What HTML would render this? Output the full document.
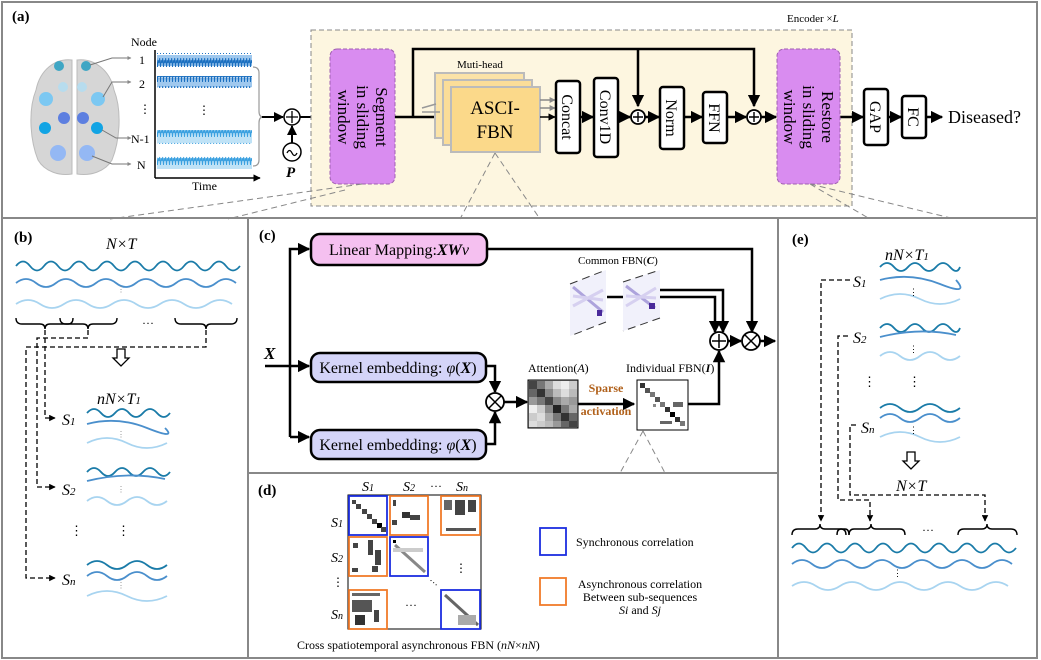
<!DOCTYPE html>
<html><head><meta charset="utf-8"><style>
html,body{margin:0;padding:0;background:#fff}
svg{display:block;font-family:"Liberation Serif",serif}
</style></head><body>
<svg width="1041" height="660" viewBox="0 0 1041 660" xmlns="http://www.w3.org/2000/svg">
<defs>
<marker id="ah" viewBox="0 0 10 10" refX="9" refY="5" markerWidth="5" markerHeight="5" orient="auto"><path d="M0,0 L10,5 L0,10 z" fill="#000"/></marker>
<marker id="ahg" viewBox="0 0 10 10" refX="9" refY="5" markerWidth="4" markerHeight="4" orient="auto"><path d="M0,0 L10,5 L0,10 z" fill="#888"/></marker>
<pattern id="zz" width="3" height="14" patternUnits="userSpaceOnUse"><path d="M0 7 L0.7 2 L1.5 12 L2.2 4 L3 7" stroke="#1a6fc0" stroke-width="0.9" fill="none"/></pattern>
<pattern id="zz2" width="3" height="14" patternUnits="userSpaceOnUse"><path d="M0 7 L0.7 3 L1.5 11 L2.2 4 L3 7" stroke="#3aa0e0" stroke-width="0.9" fill="none"/></pattern>
</defs>

<rect x="2" y="2" width="1035" height="216" fill="#fff" stroke="#888" stroke-width="2"/>
<rect x="2" y="218" width="246" height="440" fill="#fff" stroke="#888" stroke-width="2"/>
<rect x="248" y="218" width="530" height="255" fill="#fff" stroke="#888" stroke-width="2"/>
<rect x="248" y="473" width="530" height="185" fill="#fff" stroke="#888" stroke-width="2"/>
<rect x="778" y="218" width="259" height="440" fill="#fff" stroke="#888" stroke-width="2"/>

<!-- ===== panel a ===== -->
<text x="12" y="21" font-size="15" font-weight="bold">(a)</text>
<path d="M72 60 C55 58 40 70 36 90 C28 110 30 140 38 160 C45 172 60 176 72 174 Z" fill="#d6d6d6" stroke="#bbb"/>
<path d="M77 60 C94 58 110 70 114 90 C122 110 120 140 112 160 C105 172 90 176 77 174 Z" fill="#d6d6d6" stroke="#bbb"/>
<circle cx="59" cy="66" r="5" fill="#3fa6c4"/><circle cx="86" cy="66" r="5" fill="#3fa6c4"/>
<circle cx="63" cy="87" r="5" fill="#b7dcee"/><circle cx="82" cy="87" r="5" fill="#b7dcee"/>
<circle cx="46" cy="99" r="7" fill="#7cc8f2"/><circle cx="98" cy="99" r="7" fill="#7cc8f2"/>
<circle cx="64" cy="118" r="6" fill="#5d7fe0"/><circle cx="83" cy="118" r="6" fill="#5d7fe0"/>
<circle cx="45" cy="128" r="6" fill="#12a4e4"/><circle cx="97" cy="128" r="6" fill="#12a4e4"/>
<circle cx="58" cy="153" r="8" fill="#94b8f4"/><circle cx="87" cy="153" r="8" fill="#94b8f4"/>
<g stroke="#777" fill="none" marker-end="url(#ahg)">
<path d="M90 65 L112 58 L131 58"/><path d="M103 97 L112 82 L131 82"/>
<path d="M102 130 L116 138 L131 138"/><path d="M92 156 L112 164 L131 164"/>
</g>
<g font-size="12"><text x="131" y="46">Node</text><text x="139" y="64">1</text><text x="139" y="88">2</text>
<text x="139" y="113">⋮</text><text x="131" y="143">N-1</text><text x="137" y="169">N</text></g>
<line x1="155" y1="50" x2="155" y2="178" stroke="#000" stroke-width="1.5"/>
<line x1="155" y1="178" x2="260" y2="178" stroke="#000" stroke-width="1.5" marker-end="url(#ah)"/>
<text x="192" y="190" font-size="12">Time</text>
<rect x="157" y="55" width="95" height="11" fill="#9fc8ee"/>
<rect x="157" y="53" width="95" height="14" fill="url(#zz)"/>
<rect x="157" y="78" width="95" height="9" fill="#9fc8ee"/>
<rect x="157" y="76" width="95" height="12" fill="url(#zz)"/>
<rect x="157" y="132" width="95" height="11" fill="#bfe2f6"/>
<rect x="157" y="130" width="95" height="14" fill="url(#zz2)"/>
<rect x="157" y="158" width="95" height="11" fill="#bfe2f6"/>
<rect x="157" y="156" width="95" height="14" fill="url(#zz2)"/>
<text x="198" y="114" font-size="12">⋮</text>
<path d="M253 67 Q259 67 259 73 L259 111 Q259 117 263 117 Q259 117 259 123 L259 160 Q259 166 253 166" stroke="#999" fill="none" stroke-width="1.2"/>
<line x1="262" y1="117" x2="283" y2="117" stroke="#000" stroke-width="2" marker-end="url(#ah)"/>
<circle cx="292" cy="117" r="8" fill="#fff" stroke="#000" stroke-width="1.5"/>
<path d="M292 111 V123 M286 117 H298" stroke="#000" stroke-width="1.3"/>
<circle cx="292" cy="152" r="9" fill="#fff" stroke="#000" stroke-width="1.5"/>
<path d="M287 153 q2.5 -5 5 0 t5 0" stroke="#000" fill="none" stroke-width="1.3"/>
<line x1="292" y1="143" x2="292" y2="126" stroke="#000" stroke-width="2" marker-end="url(#ah)"/>
<text x="286" y="177" font-size="15" font-weight="bold" font-style="italic">P</text>
<line x1="300" y1="117" x2="328" y2="117" stroke="#000" stroke-width="2" marker-end="url(#ah)"/>

<rect x="311" y="30" width="541" height="176" fill="#fdf6e0" stroke="#888" stroke-dasharray="5,3"/>
<text x="787" y="22" font-size="11">Encoder  ×<tspan font-style="italic">L</tspan></text>
<rect x="330" y="49" width="65" height="135" rx="7" fill="#d98cf0" stroke="#a060b0" stroke-dasharray="4,2"/>
<text transform="translate(362,117) rotate(90)" font-size="17" text-anchor="middle"><tspan x="0" y="-14">Segment</tspan><tspan x="0" y="5">in sliding</tspan><tspan x="0" y="24">window</tspan></text>
<path d="M395 117 H448" stroke="#000" stroke-width="2.5" fill="none" marker-end="url(#ah)"/>
<path d="M413 117 V49 H754 V106" stroke="#000" stroke-width="2.5" fill="none" marker-end="url(#ah)"/>
<path d="M638 49 V106" stroke="#000" stroke-width="2.5" fill="none" marker-end="url(#ah)"/>
<text x="457" y="68" font-size="11">Muti-head</text>
<rect x="435" y="73" width="89" height="65" fill="#fbe3a8" stroke="#bbb" stroke-width="2"/>
<rect x="443" y="80" width="89" height="65" fill="#fbdd98" stroke="#bbb" stroke-width="2"/>
<rect x="451" y="87" width="89" height="65" fill="#fbd98a" stroke="#bbb" stroke-width="2"/>
<path d="M422 108 L436 104 M422 112 L440 112" stroke="#999" stroke-width="1.5"/>
<text x="495" y="114" font-size="19" text-anchor="middle">ASCI-</text>
<text x="495" y="138" font-size="19" text-anchor="middle">FBN</text>
<g stroke="#888" stroke-width="1.5" marker-end="url(#ahg)"><line x1="540" y1="100" x2="555" y2="100"/><line x1="540" y1="108" x2="555" y2="108"/></g>
<line x1="540" y1="117" x2="555" y2="117" stroke="#000" stroke-width="1.5" marker-end="url(#ah)"/>
<g fill="#fff" stroke="#000" stroke-width="2.5">
<rect x="556" y="81" width="24" height="72" rx="3"/>
<rect x="594" y="78" width="24" height="79" rx="3"/>
<rect x="660" y="87" width="24" height="62" rx="3"/>
<rect x="703" y="92" width="24" height="51" rx="3"/>
<rect x="864" y="89" width="24" height="56" rx="3"/>
<rect x="902" y="96" width="24" height="42" rx="3"/>
</g>
<g font-size="16" text-anchor="middle">
<text transform="translate(568,117) rotate(90)" y="6">Concat</text>
<text transform="translate(606,117) rotate(90)" y="6">Conv1D</text>
<text transform="translate(672,118) rotate(90)" y="6">Norm</text>
<text transform="translate(715,118) rotate(90)" y="6">FFN</text>
<text transform="translate(876,117) rotate(90)" y="6">GAP</text>
<text transform="translate(914,117) rotate(90)" y="6">FC</text>
</g>
<g stroke="#000" stroke-width="2.5" marker-end="url(#ah)">
<line x1="580" y1="117" x2="593" y2="117"/><line x1="618" y1="117" x2="630" y2="117"/>
<line x1="645" y1="117" x2="659" y2="117"/><line x1="684" y1="117" x2="702" y2="117"/>
<line x1="727" y1="117" x2="746" y2="117"/><line x1="761" y1="117" x2="776" y2="117"/>
<line x1="840" y1="117" x2="863" y2="117"/><line x1="888" y1="117" x2="901" y2="117"/>
<line x1="926" y1="117" x2="942" y2="117"/>
</g>
<g fill="#fff" stroke="#000" stroke-width="1.8"><circle cx="638" cy="117" r="7"/><circle cx="754" cy="117" r="7"/></g>
<path d="M638 112 V122 M633 117 H643 M754 112 V122 M749 117 H759" stroke="#000" stroke-width="1.4"/>
<rect x="777" y="49" width="63" height="135" rx="7" fill="#d98cf0" stroke="#a060b0" stroke-dasharray="4,2"/>
<text transform="translate(808,117) rotate(90)" font-size="17" text-anchor="middle"><tspan x="0" y="-14">Restore</tspan><tspan x="0" y="5">in sliding</tspan><tspan x="0" y="24">window</tspan></text>
<text x="948" y="123" font-size="18">Diseased?</text>
<g stroke="#888" stroke-dasharray="6,4" fill="none">
<path d="M362 184 L110 219 M345 190 L228 219"/>
<path d="M495 153 L460 219 M495 153 L540 219"/>
<path d="M810 184 L870 219 M810 184 L955 219"/>
<path d="M643 431 L620 473 M643 431 L665 473"/>
</g>

<!-- ===== panel b ===== -->
<text x="14" y="242" font-size="15" font-weight="bold">(b)</text>
<text x="106" y="249" font-size="16" font-style="italic">N×T</text>
<g fill="none" stroke-width="1.8">
<path d="M16 266 q7 -9 14 0 t14 0 t14 0 t14 0 t14 0 t14 0 t14 0 t14 0 t14 0 t14 0 t14 0 t14 0 t14 0 t14 0 t14 0 t14 0" stroke="#1a7ba8"/>
<path d="M16 283 q10 -8 20 0 t20 0 t20 0 t20 0 t20 0 t20 0 t20 0 t20 0 t20 0 t20 0 t20 0" stroke="#4a8fcc"/>
<path d="M16 304 q12 -8 24 0 t24 0 t24 0 t24 0 t24 0 t24 0 t24 0 t24 0 t24 0" stroke="#a8d4f0"/>
</g>
<text x="117" y="292" font-size="8" fill="#888">⋮</text>
<g fill="none" stroke="#000" stroke-width="1.4">
<path d="M16 318 q0 6 6 6 h18 q5 0 5 5 q0 -5 5 -5 h18 q5 0 5 -6"/>
<path d="M60 318 q0 6 6 6 h17 q5 0 5 5 q0 -5 5 -5 h18 q6 0 6 -6"/>
<path d="M175 318 q0 6 6 6 h20 q5 0 5 5 q0 -5 5 -5 h20 q6 0 6 -6"/>
</g>
<text x="142" y="327" font-size="12">···</text>
<g fill="none" stroke="#000" stroke-width="1.3" stroke-dasharray="5,3">
<path d="M45 330 V418 H55" marker-end="url(#ah)"/>
<path d="M88 330 V338 H37 V487 H55" marker-end="url(#ah)"/>
<path d="M206 330 V347 H26 V578 H55" marker-end="url(#ah)"/>
</g>
<path d="M117 349 h8 v9 h4 l-8 8 l-8 -8 h4 z" fill="#fff" stroke="#000" stroke-width="1.3"/>
<text x="97" y="404" font-size="16" font-style="italic">nN×T<tspan font-size="11">1</tspan></text>
<g font-size="16" font-style="italic">
<text x="62" y="425">S<tspan font-size="11">1</tspan></text>
<text x="62" y="495">S<tspan font-size="11">2</tspan></text>
<text x="62" y="585">S<tspan font-size="11">n</tspan></text>
</g>
<text x="70" y="535" font-size="13">⋮</text><text x="117" y="535" font-size="13">⋮</text>
<g fill="none" stroke-width="1.8">
<path d="M87 413 q7 -8 14 0 t14 0 t14 0 t14 0 t14 0 t13 0" stroke="#1a7ba8"/>
<path d="M87 424 q30 -8 60 4 t18 0" stroke="#4a8fcc"/>
<path d="M87 443 q20 -10 40 0 t40 0" stroke="#a8d4f0"/>
<path d="M87 472 q7 -8 14 0 t14 0 t14 0 t14 0 t14 0 t13 0" stroke="#1a7ba8"/>
<path d="M87 481 q40 -10 78 -2" stroke="#4a8fcc"/>
<path d="M87 501 q10 -8 20 0 t20 0 t20 0 t20 0" stroke="#a8d4f0"/>
<path d="M87 565 q10 -8 20 0 t20 0 t20 0 t20 0" stroke="#1a7ba8"/>
<path d="M87 576 q10 -8 20 0 t20 0 t20 0 t20 0" stroke="#4a8fcc"/>
<path d="M87 596 q20 -10 40 0 t40 0" stroke="#a8d4f0"/>
</g>
<g font-size="8" fill="#888"><text x="117" y="437">⋮</text><text x="117" y="492">⋮</text><text x="117" y="588">⋮</text></g>

<!-- ===== panel c ===== -->
<text x="259" y="240" font-size="15" font-weight="bold">(c)</text>
<rect x="311" y="234" width="176" height="31" rx="9" fill="#f5c0f0" stroke="#000" stroke-width="2.5"/>
<text x="399" y="255" font-size="16" text-anchor="middle">Linear Mapping:<tspan font-weight="bold" font-style="italic">XW</tspan><tspan font-style="italic">v</tspan></text>
<rect x="311" y="353" width="175" height="29" rx="9" fill="#d4d4f8" stroke="#000" stroke-width="2.5"/>
<rect x="311" y="430" width="175" height="29" rx="9" fill="#d4d4f8" stroke="#000" stroke-width="2.5"/>
<text x="398" y="373" font-size="16" text-anchor="middle">Kernel embedding: <tspan font-style="italic">φ</tspan>(<tspan font-weight="bold" font-style="italic">X</tspan>)</text>
<text x="398" y="450" font-size="16" text-anchor="middle">Kernel embedding: <tspan font-style="italic">φ</tspan>(<tspan font-weight="bold" font-style="italic">X</tspan>)</text>
<text x="264" y="359" font-size="17" font-weight="bold" font-style="italic">X</text>
<g stroke="#000" stroke-width="2.5" fill="none">
<path d="M265 366 H309" marker-end="url(#ah)"/>
<path d="M290 437 V249 H309" marker-end="url(#ah)"/>
<path d="M290 437 H309" marker-end="url(#ah)"/>
<path d="M486 366 H495 V392" marker-end="url(#ah)"/>
<path d="M486 444 H495 V412" marker-end="url(#ah)"/>
<path d="M504 402 H527" marker-end="url(#ah)"/>
<path d="M578 404 H634" marker-end="url(#ah)"/>
<path d="M688 404 H719 V351" marker-end="url(#ah)"/>
<path d="M487 249 H752 V332" marker-end="url(#ah)"/>
<path d="M607 297 H623"/>
<path d="M660 290 H723 V332" marker-end="url(#ah)"/>
<path d="M660 297 H715 V332" marker-end="url(#ah)"/>
<path d="M728 341 H741" marker-end="url(#ah)"/>
<path d="M760 341 H775" marker-end="url(#ah)"/>
</g>
<g fill="#fff" stroke="#000" stroke-width="1.8">
<circle cx="495" cy="402" r="9"/><circle cx="719" cy="341" r="9"/><circle cx="751" cy="341" r="9"/>
</g>
<path d="M489 396 L501 408 M501 396 L489 408 M719 334 V348 M712 341 H726 M745 335 L757 347 M757 335 L745 347" stroke="#000" stroke-width="1.5"/>
<text x="528" y="372" font-size="12">Attention(<tspan font-style="italic">A</tspan>)</text>
<rect x="528" y="380" width="50" height="48" fill="#999" stroke="#000"/>
<g>
<rect x="529" y="381" width="8" height="8" fill="#444"/><rect x="537" y="381" width="8" height="8" fill="#777"/><rect x="545" y="381" width="8" height="8" fill="#aaa"/><rect x="553" y="381" width="8" height="8" fill="#ddd"/><rect x="561" y="381" width="8" height="8" fill="#eee"/><rect x="569" y="381" width="8" height="8" fill="#ccc"/>
<rect x="529" y="389" width="8" height="8" fill="#666"/><rect x="537" y="389" width="8" height="8" fill="#333"/><rect x="545" y="389" width="8" height="8" fill="#888"/><rect x="553" y="389" width="8" height="8" fill="#bbb"/><rect x="561" y="389" width="8" height="8" fill="#ddd"/><rect x="569" y="389" width="8" height="8" fill="#bbb"/>
<rect x="529" y="397" width="8" height="8" fill="#999"/><rect x="537" y="397" width="8" height="8" fill="#777"/><rect x="545" y="397" width="8" height="8" fill="#444"/><rect x="553" y="397" width="8" height="8" fill="#888"/><rect x="561" y="397" width="8" height="8" fill="#aaa"/><rect x="569" y="397" width="8" height="8" fill="#999"/>
<rect x="529" y="405" width="8" height="8" fill="#eee"/><rect x="537" y="405" width="8" height="8" fill="#ccc"/><rect x="545" y="405" width="8" height="8" fill="#888"/><rect x="553" y="405" width="8" height="8" fill="#222"/><rect x="561" y="405" width="8" height="8" fill="#777"/><rect x="569" y="405" width="8" height="8" fill="#aaa"/>
<rect x="529" y="413" width="8" height="8" fill="#ccc"/><rect x="537" y="413" width="8" height="8" fill="#ddd"/><rect x="545" y="413" width="8" height="8" fill="#aaa"/><rect x="553" y="413" width="8" height="8" fill="#777"/><rect x="561" y="413" width="8" height="8" fill="#333"/><rect x="569" y="413" width="8" height="8" fill="#666"/>
<rect x="529" y="421" width="8" height="6" fill="#ddd"/><rect x="537" y="421" width="8" height="6" fill="#ccc"/><rect x="545" y="421" width="8" height="6" fill="#bbb"/><rect x="553" y="421" width="8" height="6" fill="#999"/><rect x="561" y="421" width="8" height="6" fill="#666"/><rect x="569" y="421" width="8" height="6" fill="#444"/>
</g>
<text x="606" y="392" font-size="12" font-weight="bold" fill="#b0601a" text-anchor="middle">Sparse</text>
<text x="606" y="415" font-size="12" font-weight="bold" fill="#b0601a" text-anchor="middle">activation</text>
<text x="626" y="372" font-size="12">Individual FBN(<tspan font-weight="bold" font-style="italic">I</tspan>)</text>
<rect x="637" y="380" width="51" height="50" fill="#fff" stroke="#000"/>
<g fill="#555">
<rect x="640" y="383" width="5" height="5" fill="#333"/><rect x="645" y="388" width="5" height="5"/><rect x="650" y="392" width="5" height="5" fill="#777"/><rect x="655" y="397" width="5" height="5"/><rect x="660" y="402" width="5" height="5" fill="#777"/><rect x="665" y="407" width="5" height="5" fill="#333"/><rect x="670" y="412" width="5" height="5" fill="#000"/><rect x="675" y="417" width="5" height="5" fill="#333"/><rect x="680" y="421" width="5" height="5" fill="#777"/>
<rect x="653" y="404" width="3" height="3" fill="#888"/><rect x="673" y="402" width="10" height="5" fill="#666"/><rect x="660" y="421" width="12" height="3" fill="#666"/>
</g>
<g>
<path d="M570 284 L606 270 L606 322 L570 336 Z" fill="#f1f1fb"/>
<path d="M570 284 L606 270 M606 322 L570 336" stroke="#333" stroke-dasharray="8,5"/>
<path d="M573 287 L603 312" stroke="#8070c8" stroke-width="3" opacity="0.6"/>
<path d="M573 296 L603 300 M573 306 L603 290" stroke="#d6d0f0" stroke-width="3"/>
<rect x="597" y="310" width="5" height="6" fill="#4a2a9a"/>
<path d="M623 282 L660 270 L660 318 L623 331 Z" fill="#f1f1fb"/>
<path d="M623 282 L660 270 M660 318 L623 331" stroke="#333" stroke-dasharray="8,5"/>
<path d="M626 286 L655 308" stroke="#8070c8" stroke-width="3" opacity="0.6"/>
<path d="M626 296 L656 298 M626 306 L656 288" stroke="#d6d0f0" stroke-width="3"/>
<rect x="649" y="303" width="6" height="6" fill="#4a2a9a"/>
</g>
<text x="578" y="264" font-size="11">Common FBN(<tspan font-weight="bold" font-style="italic">C</tspan>)</text>

<!-- ===== panel d ===== -->
<text x="258" y="495" font-size="15" font-weight="bold">(d)</text>
<g font-size="14" font-style="italic">
<text x="362" y="491">S<tspan font-size="10">1</tspan></text><text x="403" y="491">S<tspan font-size="10">2</tspan></text>
<text x="430" y="490" font-style="normal" font-size="12">···</text><text x="456" y="491">S<tspan font-size="10">n</tspan></text>
<text x="331" y="527">S<tspan font-size="10">1</tspan></text><text x="331" y="562">S<tspan font-size="10">2</tspan></text>
<text x="332" y="586" font-style="normal" font-size="12">⋮</text><text x="331" y="619">S<tspan font-size="10">n</tspan></text>
</g>
<rect x="348" y="495" width="133" height="134" fill="#fff" stroke="#000"/>
<g fill="#444">
<rect x="352" y="500" width="4" height="4"/><rect x="356" y="504" width="5" height="5"/><rect x="362" y="509" width="5" height="5"/><rect x="367" y="514" width="5" height="5"/><rect x="372" y="519" width="5" height="5"/><rect x="377" y="523" width="5" height="5" fill="#000"/><rect x="381" y="527" width="5" height="5"/>
<rect x="393" y="500" width="3" height="6"/><rect x="402" y="512" width="8" height="6" fill="#333"/><rect x="392" y="520" width="5" height="5"/><rect x="410" y="515" width="10" height="5"/>
<rect x="444" y="500" width="8" height="10" fill="#666"/><rect x="455" y="500" width="10" height="15" fill="#444"/><rect x="468" y="500" width="8" height="12"/><rect x="446" y="528" width="30" height="3" fill="#555"/>
<rect x="353" y="543" width="5" height="5"/><rect x="368" y="540" width="5" height="15"/><rect x="375" y="550" width="6" height="15"/><rect x="352" y="568" width="6" height="4"/><rect x="372" y="566" width="6" height="6"/>
<rect x="393" y="540" width="3" height="3" fill="#000"/><path d="M395 545 L425 572" stroke="#888" stroke-width="3"/><rect x="393" y="548" width="30" height="4" fill="#ccc"/>
<rect x="352" y="593" width="28" height="3" fill="#666"/><rect x="352" y="600" width="20" height="12" fill="#555"/><rect x="355" y="615" width="10" height="10" fill="#333"/><rect x="374" y="610" width="5" height="12"/>
<path d="M445 595 L478 625" stroke="#666" stroke-width="3"/><rect x="458" y="615" width="18" height="10" fill="#aaa"/>
</g>
<g fill="none" stroke-width="1.8">
<rect x="349" y="496" width="38" height="39" stroke="#1c2ee0"/>
<rect x="390" y="537" width="38" height="39" stroke="#1c2ee0"/>
<rect x="441" y="590" width="39" height="39" stroke="#1c2ee0"/>
<rect x="390" y="496" width="38" height="39" stroke="#f07b2a"/>
<rect x="441" y="496" width="39" height="39" stroke="#f07b2a"/>
<rect x="349" y="537" width="38" height="39" stroke="#f07b2a"/>
<rect x="349" y="590" width="38" height="39" stroke="#f07b2a"/>
</g>
<text x="455" y="572" font-size="12">⋮</text>
<text x="405" y="609" font-size="12">···</text>
<text x="428" y="585" font-size="10" transform="rotate(40 432 583)">···</text>
<rect x="540" y="528" width="26" height="27" fill="#fff" stroke="#1c2ee0" stroke-width="1.8"/>
<rect x="540" y="578" width="26" height="27" fill="#fff" stroke="#f07b2a" stroke-width="1.8"/>
<text x="576" y="546" font-size="12">Synchronous correlation</text>
<g font-size="12" text-anchor="middle">
<text x="640" y="588">Asynchronous correlation</text>
<text x="640" y="601">Between sub-sequences</text>
<text x="640" y="614"><tspan font-style="italic">Si</tspan> and <tspan font-style="italic">Sj</tspan></text>
</g>
<text x="297" y="649" font-size="12">Cross spatiotemporal asynchronous FBN (<tspan font-style="italic">nN</tspan>×<tspan font-style="italic">nN</tspan>)</text>

<!-- ===== panel e ===== -->
<text x="792" y="244" font-size="15" font-weight="bold">(e)</text>
<text x="885" y="260" font-size="16" font-style="italic">nN×T<tspan font-size="11">1</tspan></text>
<g font-size="16" font-style="italic">
<text x="853" y="287">S<tspan font-size="11">1</tspan></text>
<text x="853" y="343">S<tspan font-size="11">2</tspan></text>
<text x="861" y="433">S<tspan font-size="11">n</tspan></text>
</g>
<text x="863" y="386" font-size="13">⋮</text><text x="908" y="386" font-size="13">⋮</text>
<g fill="none" stroke-width="1.8">
<path d="M880 267 q7 -8 14 0 t14 0 t14 0 t14 0 t14 0 t10 0" stroke="#1a7ba8"/>
<path d="M880 280 q30 -8 60 4 t16 -4" stroke="#4a8fcc"/>
<path d="M880 299 q20 -10 40 0 t40 0" stroke="#a8d4f0"/>
<path d="M880 328 q7 -8 14 0 t14 0 t14 0 t14 0 t14 0 t10 0" stroke="#1a7ba8"/>
<path d="M880 337 q40 -10 76 -2" stroke="#4a8fcc"/>
<path d="M880 356 q10 -8 20 0 t20 0 t20 0 t20 0" stroke="#a8d4f0"/>
<path d="M880 408 q10 -8 20 0 t20 0 t20 0 t20 0" stroke="#1a7ba8"/>
<path d="M880 418 q10 -8 20 0 t20 0 t20 0 t20 0" stroke="#4a8fcc"/>
<path d="M880 437 q20 -10 40 0 t40 0" stroke="#a8d4f0"/>
</g>
<g font-size="9"><text x="909" y="295">⋮</text><text x="909" y="352">⋮</text><text x="909" y="433">⋮</text></g>
<g fill="none" stroke="#000" stroke-width="1.3" stroke-dasharray="5,3">
<path d="M850 280 H821 V521" marker-end="url(#ah)"/>
<path d="M848 336 H838 V500 H870 V521" marker-end="url(#ah)"/>
<path d="M856 425 H850 V495 H985 V521" marker-end="url(#ah)"/>
</g>
<path d="M907 452 h8 v9 h4 l-8 8 l-8 -8 h4 z" fill="#fff" stroke="#000" stroke-width="1.3"/>
<text x="896" y="491" font-size="16" font-style="italic">N×T</text>
<g fill="none" stroke="#000" stroke-width="1.4">
<path d="M792 535 q0 -6 6 -6 h17 q5 0 5 -5 q0 5 5 5 h16 q5 0 5 6"/>
<path d="M837 535 q0 -6 4 -6 h4 q4 0 4 6"/>
<path d="M849 535 q0 -6 5 -6 h12 q5 0 5 -5 q0 5 5 5 h24 q5 0 5 6"/>
<path d="M958 535 q0 -6 6 -6 h18 q5 0 5 -5 q0 5 5 5 h19 q6 0 6 6"/>
</g>
<text x="922" y="534" font-size="12">···</text>
<g fill="none" stroke-width="1.8">
<path d="M792 548 q7 -9 14 0 t14 0 t14 0 t14 0 t14 0 t14 0 t14 0 t14 0 t14 0 t14 0 t14 0 t14 0 t14 0 t14 0 t14 0 t14 0" stroke="#1a7ba8"/>
<path d="M792 564 q10 -8 20 0 t20 0 t20 0 t20 0 t20 0 t20 0 t20 0 t20 0 t20 0 t20 0 t20 0" stroke="#4a8fcc"/>
<path d="M792 586 q12 -8 24 0 t24 0 t24 0 t24 0 t24 0 t24 0 t24 0 t24 0 t24 0" stroke="#a8d4f0"/>
</g>
<text x="893" y="576" font-size="9">⋮</text>
</svg>
</body></html>
